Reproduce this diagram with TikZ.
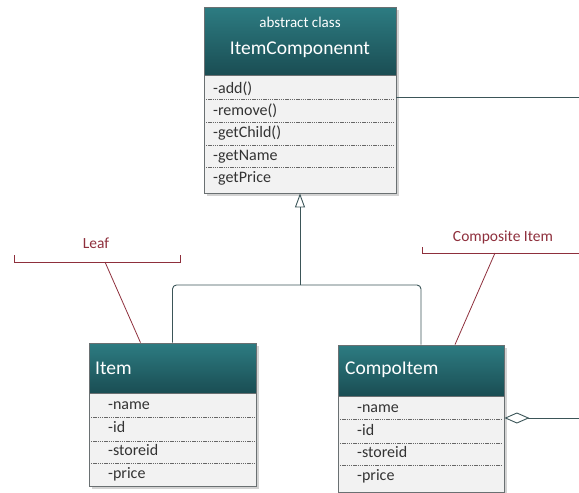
\documentclass[tikz,border=0pt]{standalone}
\usepackage{fontspec}
\setmainfont{Carlito}
\usetikzlibrary{shadows,arrows.meta}

\definecolor{tealtop}{HTML}{2D7C82}
\definecolor{tealbot}{HTML}{1A4D53}
\definecolor{boxgray}{HTML}{F2F2F2}
\definecolor{edgegray}{HTML}{6A7072}
\definecolor{notered}{HTML}{8E2F3C}
\definecolor{linkgray}{HTML}{3B5558}

\tikzset{
  classbox/.style={draw=edgegray,fill=boxgray,line width=0.8pt,inner sep=0pt,
    drop shadow={shadow xshift=2.5pt,shadow yshift=-2.5pt,opacity=0.35}},
  classhead/.style={draw=edgegray,top color=tealtop,bottom color=tealbot,line width=0.8pt,inner sep=0pt},
  headtext/.style={text=white,inner sep=0pt},
  member/.style={anchor=west,inner sep=0pt,text=black!80,text height=10pt,text depth=3pt,
    font=\fontsize{16}{16}\selectfont},
  rowsep/.style={draw=gray!80!black,dash pattern=on 1.4pt off 0.8pt,line width=0.7pt},
  link/.style={draw=linkgray,line width=0.9pt},
  note/.style={draw=notered,line width=0.8pt},
  notetext/.style={text=notered,inner sep=0pt,font=\fontsize{15.5}{15.5}\selectfont}
}

\begin{document}
\begin{tikzpicture}[x=1pt,y=-1pt]
\useasboundingbox (0,0) rectangle (579,493);

% abstract class
\node[classbox,minimum width=192pt,minimum height=186pt] (comp) at (300,100) {};
\node[classhead,minimum width=192pt,minimum height=68pt,anchor=north] (comphead) at (comp.north) {};
\node[headtext,font=\fontsize{15}{15}\selectfont] (compstereo) at (300,22) {abstract class};
\node[headtext,font=\fontsize{19.5}{19.5}\selectfont] (comptitle) at (300,50) {ItemComponennt};
\node[member] (add) at (213,90) {-add()};
\node[member] (remove) at (213,112) {-remove()};
\node[member] (getchild) at (213,134) {-getChild()};
\node[member] (getname) at (213,157) {-getName};
\node[member] (getprice) at (213,179) {-getPrice};
\draw[rowsep] (206,99) -- (394,99);
\draw[rowsep] (206,122) -- (394,122);
\draw[rowsep] (206,145) -- (394,145);
\draw[rowsep] (206,167) -- (394,167);

% leaf class
\node[classbox,minimum width=167pt,minimum height=143pt] (item) at (172.5,414.5) {};
\node[classhead,minimum width=167pt,minimum height=50pt,anchor=north] (itemhead) at (item.north) {};
\node[headtext,anchor=west,font=\fontsize{19.5}{19.5}\selectfont] (itemtitle) at (95,368) {Item};
\node[member] (itemname) at (108,406) {-name};
\node[member] (itemid) at (108,429) {-id};
\node[member] (itemstore) at (108,452) {-storeid};
\node[member] (itemprice) at (108,475) {-price};
\draw[rowsep] (91,417) -- (254,417);
\draw[rowsep] (91,441) -- (254,441);
\draw[rowsep] (91,463) -- (254,463);

% composite class
\node[classbox,minimum width=166pt,minimum height=147pt] (compo) at (421,418.5) {};
\node[classhead,minimum width=166pt,minimum height=51pt,anchor=north] (compohead) at (compo.north) {};
\node[headtext,anchor=west,font=\fontsize{19.5}{19.5}\selectfont] (compotitle) at (345,370) {CompoItem};
\node[member] (componame) at (357,409) {-name};
\node[member] (compoid) at (357,432) {-id};
\node[member] (compostore) at (357,454) {-storeid};
\node[member] (compoprice) at (357,477) {-price};
\draw[rowsep] (340,419) -- (502,419);
\draw[rowsep] (340,443) -- (502,443);
\draw[rowsep] (340,465) -- (502,465);

% inheritance
\coordinate (joint) at (300,285);
\draw[link,rounded corners=4pt] (item.north) |- (joint) -| (compo.north);
\draw[link,-{Triangle[open,length=14pt,width=10pt]}] (joint) -- (comp.south);

% aggregation, leaves the picture on the right
\coordinate (aggrtop) at (579,97);
\coordinate (aggrlow) at (579,418);
\draw[link] (comp.east |- aggrtop) -- (aggrtop);
\draw[link,{Diamond[open,length=25pt,width=11pt]}-] (compo.east |- aggrlow) -- (aggrlow);

% notes
\node[notetext] (leaftext) at (96,243) {Leaf};
\coordinate (leafnote) at (105,262);
\draw[note] (14,255) -- (14,262) -- (180,262) -- (180,255);
\draw[note] (leafnote) -- ([xshift=-32pt]item.north);

\node[notetext] (compotext) at (503,237) {Composite Item};
\coordinate (componote) at (495,253);
\draw[note] (422,247) -- (422,253) -- (579,253);
\draw[note] (componote) -- ([xshift=34pt]compo.north);
\end{tikzpicture}
\end{document}
